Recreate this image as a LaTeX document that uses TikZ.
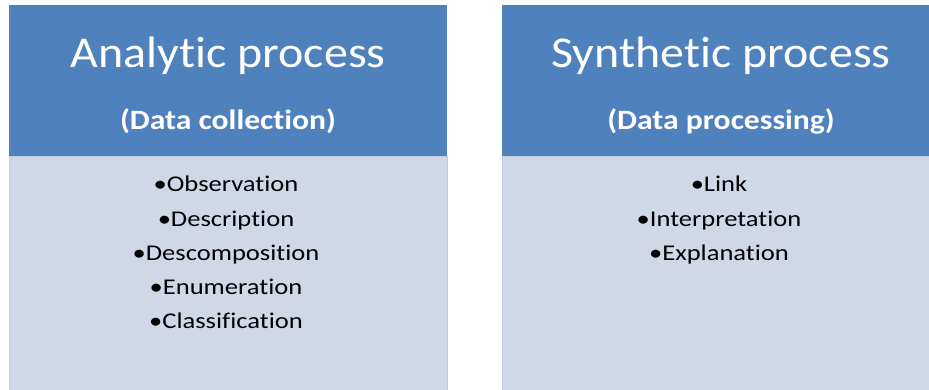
\documentclass[tikz,border=0pt]{standalone}
\usepackage{fontspec}
\setmainfont{Carlito}[Ligatures=NoCommon]
\newfontfamily\headfont{Carlito}[Ligatures=NoCommon, FakeStretch=1.09]
\newfontfamily\subfont{Carlito}[Ligatures=NoCommon, FakeStretch=1.13]
\newfontfamily\itemfont{Carlito}[Ligatures=NoCommon, FakeStretch=1.18]
\usepackage{xcolor}
\definecolor{headblue}{HTML}{4F81BD}
\definecolor{bodyblue}{HTML}{D0D8E8}
\definecolor{edgeblue}{HTML}{C4CDE0}
\newcommand\bl{\textbullet}

\begin{document}
\begin{tikzpicture}[x=1pt,y=-1pt,
    body/.style={fill=bodyblue, draw=edgeblue, line width=1pt},
    title/.style={text=white, font=\headfont\fontsize{44}{48}\selectfont, inner sep=0pt, anchor=base},
    subtitle/.style={text=white, font=\subfont\bfseries\fontsize{28}{32}\selectfont, inner sep=0pt, anchor=base},
    item/.style={font=\itemfont\fontsize{22.5}{26}\selectfont, inner sep=0pt, anchor=base}]
    \useasboundingbox (0,0) rectangle (929,390);

    \coordinate (Ltl) at (9, 5);
    \coordinate (Lhb) at (447, 157);
    \coordinate (Lbl) at (9, 157);
    \coordinate (Lbr) at (447, 392);
    \coordinate (Rtl) at (502, 5);
    \coordinate (Rhb) at (931, 157);
    \coordinate (Rbl) at (502, 157);
    \coordinate (Rbr) at (931, 392);

    \fill[headblue] (Ltl) rectangle (Lhb);
    \fill[headblue] (Rtl) rectangle (Rhb);
    \draw[body] (Lbl) rectangle (Lbr);
    \draw[body] (Rbl) rectangle (Rbr);

    % headings
    \node[title] (Ana) at (228, 68) {Analytic process};
    \node[subtitle] (Anasub) at (228, 130) {(Data collection)};
    \node[title] (Syn) at (721, 68) {Synthetic process};
    \node[subtitle] (Synsub) at (721, 130) {(Data processing)};

    % lists
    \foreach \txt [count=\i] in {Observation, Description, Descomposition, Enumeration, Classification}
      \node[item] (ana\i) at (226, {192+34.2*(\i-1)}) {\bl\txt};
    \foreach \txt [count=\i] in {Link, Interpretation, Explanation}
      \node[item] (syn\i) at (719, {192+34.2*(\i-1)}) {\bl\txt};
\end{tikzpicture}
\end{document}
